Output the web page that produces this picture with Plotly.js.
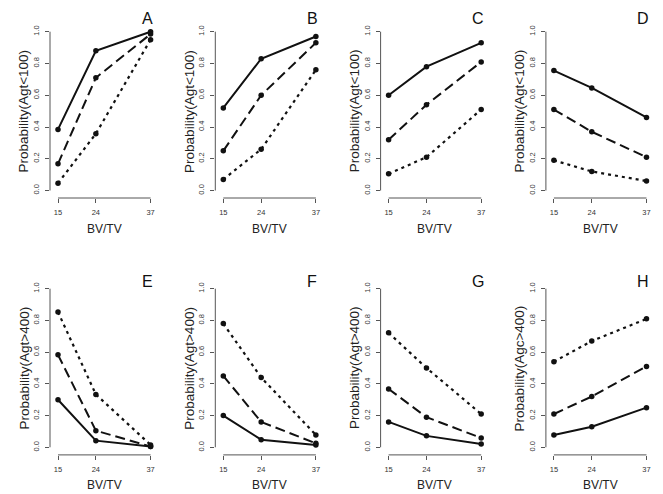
<!DOCTYPE html>
<html>
<head>
<meta charset="utf-8">
<script src="https://cdn.plot.ly/plotly-3.0.1.min.js"></script>
<style>html,body{margin:0;padding:0;background:#fff;}#chart{width:663px;height:494px;}</style>
</head>
<body>
<div id="chart"></div>
<script>
// ---- data ----
var bvtv = [15, 24, 37];
var xTickLabels = ['15', '24', '37'];
var yTickVals = [0, 0.2, 0.4, 0.6, 0.8, 1.0];
var yTickLabels = ['0.0', '0.2', '0.4', '0.6', '0.8', '1.0'];
var panelLetters = ['A', 'B', 'C', 'D', 'E', 'F', 'G', 'H'];
var yTitles = ['Probability(Agt<100)', 'Probability(Agt<100)', 'Probability(Agt<100)', 'Probability(Agt<100)',
               'Probability(Agt>400)', 'Probability(Agt>400)', 'Probability(Agt>400)', 'Probability(Agc>400)'];
var xTitle = 'BV/TV';

var aSolid = [0.385, 0.88, 1.00], aDashed = [0.168, 0.71, 0.985], aDotted = [0.046, 0.358, 0.95];
var bSolid = [0.52, 0.83, 0.97],  bDashed = [0.25, 0.60, 0.93],   bDotted = [0.07, 0.26, 0.76];
var cSolid = [0.60, 0.78, 0.93],  cDashed = [0.32, 0.54, 0.81],   cDotted = [0.105, 0.21, 0.51];
var dSolid = [0.755, 0.646, 0.46], dDashed = [0.51, 0.37, 0.21],  dDotted = [0.19, 0.12, 0.06];
var eSolid = [0.30, 0.042, 0.005], eDashed = [0.583, 0.105, 0.005], eDotted = [0.853, 0.333, 0.015];
var fSolid = [0.20, 0.048, 0.015], fDashed = [0.45, 0.16, 0.025],  fDotted = [0.78, 0.44, 0.078];
var gSolid = [0.16, 0.072, 0.021], gDashed = [0.368, 0.19, 0.059], gDotted = [0.722, 0.50, 0.21];
var hSolid = [0.078, 0.13, 0.25],  hDashed = [0.21, 0.32, 0.51],   hDotted = [0.54, 0.67, 0.81];

var solids  = [aSolid, bSolid, cSolid, dSolid, eSolid, fSolid, gSolid, hSolid];
var dasheds = [aDashed, bDashed, cDashed, dDashed, eDashed, fDashed, gDashed, hDashed];
var dotteds = [aDotted, bDotted, cDotted, dDotted, eDotted, fDotted, gDotted, hDotted];

// ---- layout geometry (pixels) ----
var W = 663, H = 494;
function px(x) { return x / W; }
function py(y) { return 1 - y / H; }
var colAxisX = [50, 215.3, 380.6, 545.9];
var panelW = 109;
var xRange = [13.1, 39.0];
var rows = [
  {bottom: 198.0, top: 25.35, yr: [-0.047, 1.04], y0: 190.5, y1: 31.7, xlab: 229.3, letter: 18.5},
  {bottom: 454.9, top: 282.36, yr: [-0.048, 1.04], y0: 447.3, y1: 288.7, xlab: 485.3, letter: 281}
];
var pxPerX = panelW / (xRange[1] - xRange[0]);

var FONT = 'Liberation Sans, Arial, Helvetica, sans-serif';
var AXC = '#555';
var INK = '#111';

var traces = [];
var layout = {
  width: W, height: H,
  margin: {l: 0, r: 0, t: 0, b: 0, pad: 0},
  paper_bgcolor: '#fff', plot_bgcolor: '#fff',
  showlegend: false,
  font: {family: FONT, color: '#222'},
  shapes: [], annotations: []
};

var styles = [
  {dash: 'solid', width: 2, get: function (i) { return solids[i]; }},
  {dash: '10px,5px', width: 2, get: function (i) { return dasheds[i]; }},
  {dash: '3px,4px', width: 2.2, get: function (i) { return dotteds[i]; }}
];

for (var p = 0; p < 8; p++) {
  var r = rows[Math.floor(p / 4)];
  var c = p % 4;
  var ax = colAxisX[c];
  var n = p + 1;
  var xa = 'xaxis' + (n === 1 ? '' : n), ya = 'yaxis' + (n === 1 ? '' : n);
  var xr = 'x' + (n === 1 ? '' : n), yr = 'y' + (n === 1 ? '' : n);

  layout[xa] = {
    domain: [px(ax), px(ax + panelW)], range: xRange, anchor: yr,
    showgrid: false, zeroline: false, showline: false,
    tickmode: 'array', tickvals: bvtv, ticktext: xTickLabels,
    ticks: 'outside', ticklen: 4, tickwidth: 1, tickcolor: AXC, ticklabelstandoff: 3,
    tickfont: {size: 7.5, color: '#333', family: FONT}, fixedrange: true
  };
  layout[ya] = {
    domain: [py(r.bottom), py(r.top)], range: r.yr, anchor: xr,
    showgrid: false, zeroline: false, showline: false,
    tickmode: 'array', tickvals: yTickVals, ticktext: yTickLabels,
    ticks: 'outside', ticklen: 4, tickwidth: 1, tickcolor: AXC, tickangle: -90, ticklabelstandoff: 3,
    tickfont: {size: 7.5, color: '#333', family: FONT}, fixedrange: true
  };

  // R-style axis lines spanning only the tick range
  layout.shapes.push({type: 'line', xref: xr, yref: yr + ' domain', x0: bvtv[0], x1: bvtv[bvtv.length - 1], y0: 0, y1: 0,
                      line: {color: AXC, width: 1}});
  layout.shapes.push({type: 'line', xref: xr + ' domain', yref: yr, x0: 0, x1: 0, y0: yTickVals[0], y1: yTickVals[yTickVals.length - 1],
                      line: {color: AXC, width: 1}});

  for (var s = 0; s < 3; s++) {
    traces.push({
      type: 'scatter', mode: 'lines+markers', x: bvtv, y: styles[s].get(p),
      xaxis: xr, yaxis: yr,
      line: {color: INK, width: styles[s].width, dash: styles[s].dash},
      marker: {color: INK, size: 5.5, symbol: 'circle'},
      hoverinfo: 'skip', cliponaxis: false
    });
  }

  var x15 = ax + (bvtv[0] - xRange[0]) * pxPerX;
  var x37 = ax + (bvtv[2] - xRange[0]) * pxPerX;
  // y title
  layout.annotations.push({xref: 'paper', yref: 'paper', x: px(ax - 26.5), y: py((r.y0 + r.y1) / 2),
    text: yTitles[p], textangle: -90, showarrow: false, xanchor: 'center', yanchor: 'middle',
    font: {size: 13.5, color: '#222', family: FONT}});
  // x title
  layout.annotations.push({xref: 'paper', yref: 'paper', x: px((x15 + x37) / 2), y: py(r.xlab),
    text: xTitle, showarrow: false, xanchor: 'center', yanchor: 'middle',
    font: {size: 12, color: '#222', family: FONT}});
  // panel letter
  layout.annotations.push({xref: 'paper', yref: 'paper', x: px(ax + 97), y: py(r.letter),
    text: panelLetters[p], showarrow: false, xanchor: 'center', yanchor: 'middle',
    font: {size: 16, color: '#111', family: FONT}});
}

Plotly.newPlot('chart', traces, layout, {staticPlot: true, displayModeBar: false});
</script>
</body>
</html>
